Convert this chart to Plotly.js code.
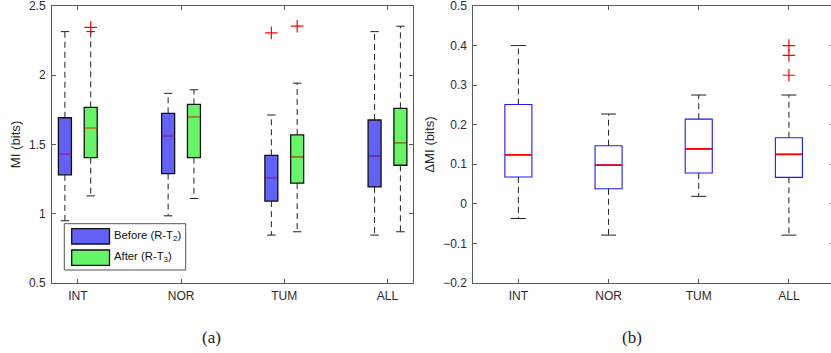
<!DOCTYPE html>
<html>
<head>
<meta charset="utf-8">
<script src="https://cdn.plot.ly/plotly-3.0.1.min.js"></script>
<style>
  html, body { margin: 0; padding: 0; background: #fff; overflow: hidden; }
  #chart { width: 840px; height: 353px; }
</style>
</head>
<body>
<div id="chart"></div>
<script>
// ---- data -------------------------------------------------------------
const categories = ['INT', 'NOR', 'TUM', 'ALL'];

// (a) MI before registration refinement (R-T2)
const beforeQ1  = [1.281, 1.290, 1.091, 1.194];
const beforeMed = [1.429, 1.564, 1.261, 1.417];
const beforeQ3  = [1.693, 1.725, 1.422, 1.677];
const beforeLo  = [0.949, 0.985, 0.846, 0.846];
const beforeHi  = [2.315, 1.869, 1.713, 2.315];
const beforeOutCat = ['TUM'];
const beforeOutVal = [2.306];

// (a) MI after (R-T3)
const afterQ1  = [1.405, 1.405, 1.221, 1.350];
const afterMed = [1.617, 1.698, 1.410, 1.509];
const afterQ3  = [1.768, 1.789, 1.569, 1.761];
const afterLo  = [1.129, 1.110, 0.870, 0.870];
const afterHi  = [2.315, 1.895, 1.943, 2.354];
const afterOutCat = ['INT', 'TUM'];
const afterOutVal = [2.346, 2.354];

// (b) change in MI
const deltaQ1  = [0.068, 0.038, 0.078, 0.067];
const deltaMed = [0.124, 0.098, 0.139, 0.125];
const deltaQ3  = [0.251, 0.147, 0.214, 0.167];
const deltaLo  = [-0.037, -0.079, 0.019, -0.079];
const deltaHi  = [0.400, 0.227, 0.275, 0.275];
const deltaOutCat = ['ALL', 'ALL', 'ALL'];
const deltaOutVal = [0.400, 0.375, 0.325];

const legendLabels = ['Before (R-T<sub>2</sub>)', 'After (R-T<sub>3</sub>)'];

// ---- page geometry ----------------------------------------------------
const W = 840, H = 353, MT = 6, MB = 70;
const px = v => v / W;                              // pixel x -> paper
const py = v => (H - MB - v) / (H - MT - MB);       // pixel y -> paper

const FONT = 'Liberation Sans, Arial, Helvetica, sans-serif';
const AX = '#5a5a5a';
const TXT = '#2b2b2b';
const TICK_SIZE = 12;
const TITLE_SIZE = 13.2;

// ---- helpers ----------------------------------------------------------
const catPos = (cat, off) => categories.indexOf(cat) + 1 + off;
const positions = off => categories.map((c, i) => i + 1 + off);

function boxTrace(pos, q1, med, q3, width, fill, lineColor, lw, xa, ya) {
  return {
    type: 'box', x: pos, q1: q1, median: med, q3: q3,
    lowerfence: q1, upperfence: q3, width: width,
    fillcolor: fill, line: { color: lineColor, width: lw },
    whiskerwidth: 0, boxpoints: false, hoverinfo: 'skip',
    showlegend: false, xaxis: xa, yaxis: ya
  };
}

function whiskerTraces(pos, q1, q3, lo, hi, capHalf, xa, ya) {
  const wx = [], wy = [], cx = [], cy = [];
  pos.forEach((p, i) => {
    wx.push(p, p, null, p, p, null);
    wy.push(q3[i], hi[i], null, q1[i], lo[i], null);
    cx.push(p - capHalf, p + capHalf, null, p - capHalf, p + capHalf, null);
    cy.push(hi[i], hi[i], null, lo[i], lo[i], null);
  });
  return [
    { type: 'scatter', mode: 'lines', x: wx, y: wy, xaxis: xa, yaxis: ya,
      line: { color: '#222', width: 1, dash: '6px,4px' }, hoverinfo: 'skip', showlegend: false },
    { type: 'scatter', mode: 'lines', x: cx, y: cy, xaxis: xa, yaxis: ya,
      line: { color: '#222', width: 1 }, hoverinfo: 'skip', showlegend: false }
  ];
}

function medianTrace(pos, med, half, color, lw, xa, ya) {
  const x = [], y = [];
  pos.forEach((p, i) => { x.push(p - half, p + half, null); y.push(med[i], med[i], null); });
  return { type: 'scatter', mode: 'lines', x: x, y: y, xaxis: xa, yaxis: ya,
    line: { color: color, width: lw }, hoverinfo: 'skip', showlegend: false };
}

function outlierTrace(cats, vals, off, xa, ya) {
  return { type: 'scatter', mode: 'markers', x: cats.map(c => catPos(c, off)), y: vals,
    xaxis: xa, yaxis: ya, hoverinfo: 'skip', showlegend: false,
    marker: { symbol: 'cross-thin', size: 9, line: { color: '#ff0000', width: 1.2 } } };
}

// ---- traces -----------------------------------------------------------
const OFF = 0.125, BW_A = 0.126, BW_B = 0.30;
const posB = positions(-OFF), posA = positions(OFF), posD = positions(0);

const traces = [
  boxTrace(posB, beforeQ1, beforeMed, beforeQ3, BW_A, '#6262f8', '#111', 1.3, 'x', 'y'),
  boxTrace(posA, afterQ1, afterMed, afterQ3, BW_A, '#66f566', '#111', 1.3, 'x', 'y'),
  ...whiskerTraces(posB, beforeQ1, beforeQ3, beforeLo, beforeHi, 0.041, 'x', 'y'),
  ...whiskerTraces(posA, afterQ1, afterQ3, afterLo, afterHi, 0.041, 'x', 'y'),
  medianTrace(posB, beforeMed, BW_A / 2 - 0.006, '#8a35b5', 1.6, 'x', 'y'),
  medianTrace(posA, afterMed, BW_A / 2 - 0.006, '#a8901e', 1.6, 'x', 'y'),
  outlierTrace(beforeOutCat, beforeOutVal, -OFF, 'x', 'y'),
  outlierTrace(afterOutCat, afterOutVal, OFF, 'x', 'y'),

  boxTrace(posD, deltaQ1, deltaMed, deltaQ3, BW_B, 'rgba(0,0,0,0)', '#1a1aff', 1.1, 'x2', 'y2'),
  ...whiskerTraces(posD, deltaQ1, deltaQ3, deltaLo, deltaHi, 0.083, 'x2', 'y2'),
  medianTrace(posD, deltaMed, BW_B / 2 - 0.004, '#ff0000', 1.8, 'x2', 'y2'),
  outlierTrace(deltaOutCat, deltaOutVal, 0, 'x2', 'y2')
];

// ---- axes -------------------------------------------------------------
function xAxis(domain, range) {
  return {
    domain: domain, range: range, tickvals: [1, 2, 3, 4], ticktext: categories,
    showline: true, linecolor: AX, linewidth: 1, mirror: 'ticks',
    ticks: 'inside', ticklen: 4, tickcolor: AX, tickwidth: 1,
    showgrid: false, zeroline: false, ticklabelstandoff: 2,
    ticklabeloverflow: 'allow',
    tickfont: { family: FONT, size: TICK_SIZE, color: TXT }, fixedrange: true
  };
}
function yAxis(range, dtick, title, anchor) {
  return {
    domain: [0, 1], range: range, dtick: dtick, anchor: anchor,
    showline: true, linecolor: AX, linewidth: 1, mirror: 'ticks',
    ticks: 'inside', ticklen: 4, tickcolor: AX, tickwidth: 1,
    showgrid: false, zeroline: false, ticklabelstandoff: 3,
    ticklabeloverflow: 'allow',
    tickfont: { family: FONT, size: TICK_SIZE, color: TXT },
    title: { text: title, font: { family: FONT, size: TITLE_SIZE, color: TXT }, standoff: 5 },
    fixedrange: true
  };
}

const layout = {
  width: W, height: H,
  margin: { l: 0, r: 0, t: MT, b: MB, pad: 0 },
  paper_bgcolor: '#fff', plot_bgcolor: '#fff',
  boxmode: 'overlay', showlegend: false,
  xaxis: xAxis([px(52), px(413.3)], [0.75, 4.25]),
  yaxis: yAxis([0.5, 2.5], 0.5, 'MI (bits)', 'x'),
  xaxis2: Object.assign(xAxis([px(473.3), px(834)], [0.5, 4.5]), { anchor: 'y2' }),
  yaxis2: yAxis([-0.2, 0.5], 0.1, '\u0394MI (bits)', 'x2'),
  shapes: [
    // legend frame and swatches for panel (a)
    { type: 'rect', xref: 'paper', yref: 'paper', x0: px(64.3), x1: px(185.7), y0: py(270), y1: py(223.7),
      line: { color: '#555', width: 1 }, fillcolor: '#fff', layer: 'above' },
    { type: 'rect', xref: 'paper', yref: 'paper', x0: px(71.7), x1: px(109.5), y0: py(244), y1: py(228.7),
      line: { color: '#111', width: 1.3 }, fillcolor: '#6262f8', layer: 'above' },
    { type: 'rect', xref: 'paper', yref: 'paper', x0: px(71.7), x1: px(109.5), y0: py(265.3), y1: py(250),
      line: { color: '#111', width: 1.3 }, fillcolor: '#66f566', layer: 'above' }
  ],
  annotations: [
    { xref: 'paper', yref: 'paper', x: px(112), y: py(236), xanchor: 'left', yanchor: 'middle',
      text: legendLabels[0], showarrow: false, font: { family: FONT, size: 11.3, color: '#111' } },
    { xref: 'paper', yref: 'paper', x: px(112), y: py(257), xanchor: 'left', yanchor: 'middle',
      text: legendLabels[1], showarrow: false, font: { family: FONT, size: 11.3, color: '#111' } },
    { xref: 'paper', yref: 'paper', x: px(211), y: py(337), xanchor: 'center', yanchor: 'middle',
      text: '(a)', showarrow: false, font: { family: 'Liberation Serif, DejaVu Serif, serif', size: 17, color: '#222' } },
    { xref: 'paper', yref: 'paper', x: px(632), y: py(337), xanchor: 'center', yanchor: 'middle',
      text: '(b)', showarrow: false, font: { family: 'Liberation Serif, DejaVu Serif, serif', size: 17, color: '#222' } }
  ]
};

Plotly.newPlot('chart', traces, layout, { staticPlot: true, displayModeBar: false });
</script>
</body>
</html>
